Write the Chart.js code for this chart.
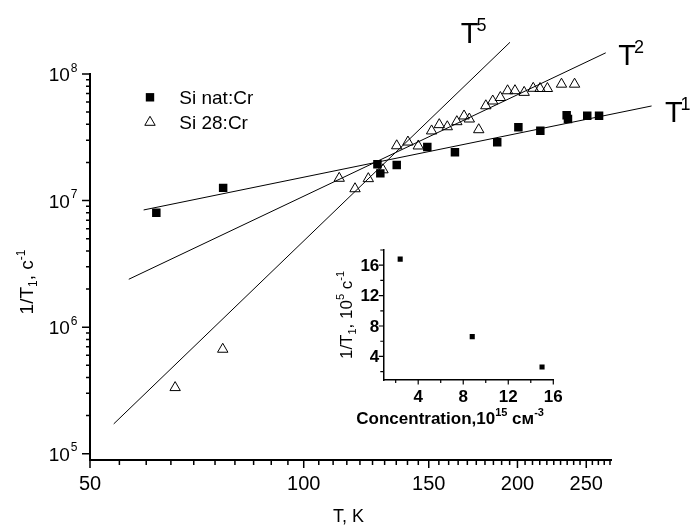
<!DOCTYPE html>
<html>
<head>
<meta charset="utf-8">
<script src="https://cdn.jsdelivr.net/npm/chart.js@4.4.1/dist/chart.umd.min.js"></script>
<style>
  html, body { margin: 0; padding: 0; background: #fff; }
  #wrap { position: relative; width: 691px; height: 525px; }
  #wrap canvas { position: absolute; left: 0; top: 0; }
</style>
</head>
<body>
<div id="wrap">
  <canvas id="grafico" width="691" height="525"></canvas>
  <canvas id="inset" width="691" height="525"></canvas>
</div>
<script>
// Si nat:Cr (quadrados)
const tempNat = [62.0, 77.0, 127.0, 128.2, 135.2, 149.3, 163.3, 187.3, 200.6, 215.4, 234.6, 235.6, 250.8, 260.6];
const taxaNat = [8.0e6, 1.26e7, 1.94e7, 1.64e7, 1.91e7, 2.65e7, 2.41e7, 2.89e7, 3.79e7, 3.56e7, 4.72e7, 4.41e7, 4.68e7, 4.68e7];

// Si 28:Cr (triangulos)
const temp28 = [65.9, 76.9, 112.2, 118.1, 123.3, 129.3, 135.2, 140.2, 145.0, 151.4, 155.2, 159.3, 164.3, 168.2,
  171.1, 176.4, 180.5, 184.6, 189.2, 193.7, 198.4, 204.4, 210.5, 215.2, 220.4, 230.7, 240.7];
const taxa28 = [3.33e5, 6.69e5, 1.50e7, 1.24e7, 1.49e7, 1.75e7, 2.71e7, 2.90e7, 2.70e7, 3.55e7, 3.98e7, 3.83e7, 4.20e7, 4.66e7,
  4.41e7, 3.63e7, 5.61e7, 6.12e7, 6.52e7, 7.37e7, 7.38e7, 7.16e7, 7.71e7, 7.68e7, 7.68e7, 8.31e7, 8.31e7];

// retas de ajuste (extremos)
const retaT5 = { temp: [54.0, 195.2], taxa: [1.72e5, 1.78e8], rotulo: '5' };
const retaT2 = { temp: [56.7, 266.3], taxa: [2.39e6, 1.47e8], rotulo: '2' };
const retaT1 = { temp: [59.5, 309.0], taxa: [8.43e6, 5.59e7], rotulo: '1' };

// eixos do grafico principal
const rotulosX = [50, 100, 150, 200, 250];
const expoentesY = [5, 6, 7, 8];

// grafico interno
const concentracao = [2.4, 8.8, 15.0];
const taxaInset = [16.8, 6.6, 2.6];
const rotulosInsetX = [4, 8, 12, 16];
const menoresInsetX = [2, 6, 10, 14];
const rotulosInsetY = [4, 8, 12, 16];
const menoresInsetY = [2, 6, 10, 14, 18];

const FONTE = '"Liberation Sans", Arial, Helvetica, sans-serif';

function pontos(xs, ys) {
  return xs.map((v, i) => ({ x: v, y: ys[i] }));
}

function fonte(p) {
  return `${p.bold ? 'bold ' : ''}${p.size}px ${FONTE}`;
}

function larguraPartes(ctx, partes) {
  return partes.reduce((soma, p) => {
    ctx.font = fonte(p);
    return soma + ctx.measureText(p.t).width;
  }, 0);
}

function desenharPartes(ctx, partes, x, y) {
  let cx = x;
  partes.forEach(p => {
    ctx.font = fonte(p);
    ctx.fillText(p.t, cx, y + (p.dy || 0));
    cx += ctx.measureText(p.t).width;
  });
}

function desenharTriangulo(ctx, x, y, r) {
  ctx.beginPath();
  for (let k = 0; k < 3; k++) {
    const ang = k * 2 * Math.PI / 3;
    const px = x + Math.sin(ang) * r;
    const py = y - Math.cos(ang) * r;
    if (k === 0) ctx.moveTo(px, py); else ctx.lineTo(px, py);
  }
  ctx.closePath();
  ctx.stroke();
}

// ticks menores e maiores do eixo X (log) a cada 5 K
const ticksX = [];
for (let v = 50; v <= 270; v += 5) ticksX.push(v);
const ticksY = [];
for (let e = 5; e <= 7; e++) {
  for (let m = 1; m <= 9; m++) ticksY.push(m * Math.pow(10, e));
}
ticksY.push(1e8);

/**
 * Desenha ticks, rotulos, titulos, legenda e rotulos das retas.
 */
const decoracaoPrincipal = {
  id: 'decoracaoPrincipal',
  afterDraw(chart) {
    const { ctx, chartArea: a, scales: { x, y } } = chart;
    ctx.save();
    ctx.strokeStyle = '#000';
    ctx.fillStyle = '#000';
    ctx.lineWidth = 1.5;

    ctx.beginPath();
    x.ticks.forEach(t => {
      const px = x.getPixelForValue(t.value);
      ctx.moveTo(px, a.bottom);
      ctx.lineTo(px, a.bottom + (t.major ? 8 : 5));
    });
    y.ticks.forEach(t => {
      const py = y.getPixelForValue(t.value);
      ctx.moveTo(a.left, py);
      ctx.lineTo(a.left - (t.major ? 8 : 4), py);
    });
    ctx.stroke();

    // rotulos X
    ctx.textAlign = 'center';
    ctx.textBaseline = 'alphabetic';
    ctx.font = `20px ${FONTE}`;
    rotulosX.forEach(v => {
      ctx.fillText(String(v), x.getPixelForValue(v), a.bottom + 29.5);
    });

    // rotulos Y: 10^n
    ctx.textAlign = 'right';
    expoentesY.forEach(e => {
      const py = y.getPixelForValue(Math.pow(10, e));
      ctx.font = `12px ${FONTE}`;
      const xExp = a.left - 12.5;
      ctx.fillText(String(e), xExp, py - 2.5);
      const w = ctx.measureText(String(e)).width;
      ctx.font = `19px ${FONTE}`;
      ctx.fillText('10', xExp - w - 1, py + 7);
    });

    // titulo X
    ctx.textAlign = 'left';
    ctx.font = `18px ${FONTE}`;
    ctx.fillText('T, K', a.left + 243, a.bottom + 61.5);

    // titulo Y
    const partesY = [
      { t: '1/T', size: 19 },
      { t: '1', size: 12, dy: 4 },
      { t: ', c', size: 19 },
      { t: '-1', size: 12, dy: -8 }
    ];
    ctx.save();
    ctx.translate(a.left - 57, a.top + 208);
    ctx.rotate(-Math.PI / 2);
    desenharPartes(ctx, partesY, -larguraPartes(ctx, partesY) / 2, 0);
    ctx.restore();

    // legenda
    const lx = a.left + 60;
    ctx.fillRect(lx - 4.2, a.top + 23.3 - 4.2, 8.4, 8.4);
    ctx.lineWidth = 1;
    desenharTriangulo(ctx, lx, a.top + 48.3, 6);
    ctx.font = `19px ${FONTE}`;
    ctx.fillText('Si nat:Cr', a.left + 89.3, a.top + 30);
    ctx.fillText('Si 28:Cr', a.left + 89.3, a.top + 55.3);

    // rotulos T^n junto ao fim de cada reta
    const rotulo = (reta, dx, dy) => {
      const ex = x.getPixelForValue(reta.temp[1]);
      const ey = y.getPixelForValue(reta.taxa[1]);
      ctx.font = `29px ${FONTE}`;
      ctx.fillText('T', ex + dx, ey + dy);
      const w = ctx.measureText('T').width;
      ctx.font = `18px ${FONTE}`;
      ctx.fillText(reta.rotulo, ex + dx + w - 2, ey + dy - 12);
    };
    rotulo(retaT5, -49.3, 1);
    rotulo(retaT2, 12.6, 12.3);
    rotulo(retaT1, 13.3, 15.7);

    ctx.restore();
  }
};

const retaDataset = reta => ({
  data: pontos(reta.temp, reta.taxa),
  showLine: true,
  borderColor: '#000',
  borderWidth: 1,
  pointRadius: 0,
  clip: false
});

new Chart(document.getElementById('grafico'), {
  type: 'scatter',
  data: {
    datasets: [
      retaDataset(retaT5),
      retaDataset(retaT2),
      retaDataset(retaT1),
      {
        label: 'Si nat:Cr',
        data: pontos(tempNat, taxaNat),
        pointStyle: 'rect',
        pointRadius: 6,
        backgroundColor: '#000',
        borderColor: '#000',
        borderWidth: 0
      },
      {
        label: 'Si 28:Cr',
        data: pontos(temp28, taxa28),
        pointStyle: 'triangle',
        pointRadius: 6,
        backgroundColor: 'rgba(0,0,0,0)',
        borderColor: '#000',
        borderWidth: 1
      }
    ]
  },
  options: {
    responsive: false,
    animation: false,
    devicePixelRatio: 1,
    events: [],
    layout: { padding: { left: 90, right: 79.3, top: 74, bottom: 65 } },
    plugins: { legend: { display: false }, tooltip: { enabled: false } },
    scales: {
      x: {
        type: 'logarithmic',
        min: 50,
        max: 271.5,
        grid: { display: false, drawTicks: false },
        border: { display: true, color: '#000', width: 2 },
        ticks: { display: false },
        afterBuildTicks: s => {
          s.ticks = ticksX.map(v => ({ value: v, major: rotulosX.includes(v) }));
        }
      },
      y: {
        type: 'logarithmic',
        min: 8.92e4,
        max: 1e8,
        grid: { display: false, drawTicks: false },
        border: { display: true, color: '#000', width: 2 },
        ticks: { display: false },
        afterBuildTicks: s => {
          s.ticks = ticksY.map(v => ({ value: v, major: expoentesY.some(e => Math.abs(v - Math.pow(10, e)) < 1) }));
        }
      }
    }
  },
  plugins: [decoracaoPrincipal]
});

/**
 * Ticks, rotulos e titulos do grafico interno.
 */
const decoracaoInset = {
  id: 'decoracaoInset',
  afterDraw(chart) {
    const { ctx, chartArea: a, scales: { x, y } } = chart;
    ctx.save();
    ctx.strokeStyle = '#000';
    ctx.fillStyle = '#000';
    ctx.lineWidth = 1.2;
    ctx.beginPath();
    x.ticks.forEach(t => {
      const px = x.getPixelForValue(t.value);
      ctx.moveTo(px, a.bottom);
      ctx.lineTo(px, a.bottom + (t.major ? 4.5 : 3));
    });
    y.ticks.forEach(t => {
      const py = y.getPixelForValue(t.value);
      ctx.moveTo(a.left, py);
      ctx.lineTo(a.left - (t.major ? 4.5 : 3), py);
    });
    ctx.stroke();

    ctx.font = `bold 17px ${FONTE}`;
    ctx.textAlign = 'center';
    ctx.textBaseline = 'alphabetic';
    rotulosInsetX.forEach(v => ctx.fillText(String(v), x.getPixelForValue(v), a.bottom + 22));
    ctx.textAlign = 'right';
    ctx.textBaseline = 'middle';
    rotulosInsetY.forEach(v => ctx.fillText(String(v), a.left - 4, y.getPixelForValue(v) + 1));

    ctx.textAlign = 'left';
    ctx.textBaseline = 'alphabetic';
    desenharPartes(ctx, [
      { t: 'Concentration,10', size: 17, bold: true },
      { t: '15', size: 11, bold: true, dy: -8 },
      { t: ' см', size: 17, bold: true },
      { t: '-3', size: 11, bold: true, dy: -8 }
    ], a.left - 27, a.bottom + 44);

    const partesY = [
      { t: '1/T', size: 17 },
      { t: '1', size: 11, dy: 4 },
      { t: ', 10', size: 17 },
      { t: '5', size: 11, dy: -8 },
      { t: ' c', size: 17 },
      { t: '-1', size: 11, dy: -8 }
    ];
    ctx.save();
    ctx.translate(a.left - 31, (a.top + a.bottom) / 2);
    ctx.rotate(-Math.PI / 2);
    desenharPartes(ctx, partesY, -larguraPartes(ctx, partesY) / 2, 0);
    ctx.restore();

    ctx.restore();
  }
};

new Chart(document.getElementById('inset'), {
  type: 'scatter',
  data: {
    datasets: [{
      data: pontos(concentracao, taxaInset),
      pointStyle: 'rect',
      pointRadius: 3.6,
      backgroundColor: '#000',
      borderColor: '#000',
      borderWidth: 0
    }]
  },
  options: {
    responsive: false,
    animation: false,
    devicePixelRatio: 1,
    events: [],
    layout: { padding: { left: 383.3, right: 137.7, top: 250, bottom: 145 } },
    plugins: { legend: { display: false }, tooltip: { enabled: false } },
    scales: {
      x: {
        type: 'linear',
        min: 0.9,
        max: 16,
        grid: { display: false, drawTicks: false },
        border: { display: true, color: '#000', width: 1.5 },
        ticks: { display: false },
        afterBuildTicks: s => {
          s.ticks = rotulosInsetX.map(v => ({ value: v, major: true }))
            .concat(menoresInsetX.map(v => ({ value: v, major: false })));
        }
      },
      y: {
        type: 'linear',
        min: 0.9,
        max: 18,
        grid: { display: false, drawTicks: false },
        border: { display: true, color: '#000', width: 1.5 },
        ticks: { display: false },
        afterBuildTicks: s => {
          s.ticks = rotulosInsetY.map(v => ({ value: v, major: true }))
            .concat(menoresInsetY.map(v => ({ value: v, major: false })));
        }
      }
    }
  },
  plugins: [decoracaoInset]
});
</script>
</body>
</html>
